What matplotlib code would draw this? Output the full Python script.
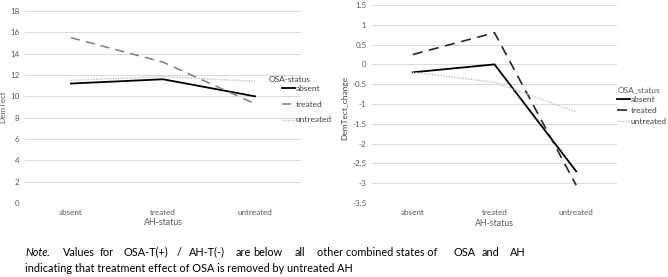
import matplotlib
matplotlib.use("Agg")
import matplotlib.pyplot as plt
import numpy as np

plt.rcParams['font.family'] = ['Lato', 'DejaVu Sans']

categories = ["absent", "treated", "untreated"]
series_names = ["absent", "treated", "untreated"]

left_absent = [11.2, 11.6, 10.0]
left_treated = [15.5, 13.2, 9.3]
left_untreated = [11.5, 11.85, 11.4]

right_absent = [-0.2, 0.0, -2.7]
right_treated = [0.25, 0.8, -3.05]
right_untreated = [-0.2, -0.45, -1.2]

left_yticks = [0, 2, 4, 6, 8, 10, 12, 14, 16, 18]
right_yticks = [-3.5, -3, -2.5, -2, -1.5, -1, -0.5, 0, 0.5, 1, 1.5]

W, H = 668, 277
fig = plt.figure(figsize=(W / 100, H / 100), dpi=100)

def ax_at(x0, x1, y_top, y_bot):
    return fig.add_axes([x0 / W, 1 - y_bot / H, (x1 - x0) / W, (y_bot - y_top) / H])

grey = "#595959"
grid_c = "#d9d9d9"
fs = 5.8

def style(ax, yticks, fmt):
    ax.set_xlim(-0.5, 2.5)
    ax.set_ylim(yticks[0], yticks[-1])
    ax.set_yticks(yticks)
    ax.set_yticklabels([fmt(v) for v in yticks], fontsize=fs, color=grey)
    ax.set_xticks(range(len(categories)))
    ax.set_xticklabels(categories, fontsize=fs, color=grey)
    for s in ax.spines.values():
        s.set_visible(False)
    ax.tick_params(axis='both', length=0, pad=4)
    ax.grid(axis='y', color=grid_c, lw=0.7)
    ax.set_axisbelow(True)
    ax.set_facecolor('none')

x = np.arange(len(categories))

# Left chart
axL = ax_at(25, 301, 11, 203)
style(axL, left_yticks, lambda v: f"{v:g}")
hL = []
hL += axL.plot(x, left_absent, color="black", lw=1.3, label=series_names[0])
hL += axL.plot(x, left_treated, color="#7f7f7f", lw=1.1, dashes=(6, 4), label=series_names[1])
hL += axL.plot(x, left_untreated, color="#bfbfbf", lw=1.0, linestyle=(0, (1, 1)), label=series_names[2])
axL.set_ylabel("DemTect", fontsize=fs, color=grey)
axL.yaxis.set_label_coords((6 - 25) / 276, 0.5)
axL.set_xlabel("AH-status", fontsize=fs + 0.6, color=grey)
axL.xaxis.set_label_coords(0.5, (203 - 218) / 192)
fig.text(269 / W, 1 - 80 / H, "OSA-status", fontsize=fs + 0.2, color="#404040", va='center', ha='left')
fig.legend(handles=hL, loc='upper left', bbox_to_anchor=(282 / W, 1 - 85 / H),
           frameon=False, fontsize=fs + 0.2, labelcolor="#404040", handlelength=1.5,
           handletextpad=0.1, labelspacing=1.05, borderpad=0, borderaxespad=0)

# Right chart
axR = ax_at(372, 617, 5, 203)
style(axR, right_yticks, lambda v: f"{v:g}")
hR = []
hR += axR.plot(x, right_absent, color="black", lw=1.3, label=series_names[0])
hR += axR.plot(x, right_treated, color="#262626", lw=1.2, dashes=(6, 4), label=series_names[1])
hR += axR.plot(x, right_untreated, color="#bfbfbf", lw=1.0, linestyle=(0, (1, 1)), label=series_names[2])
axR.set_ylabel("DemTect_change", fontsize=fs + 0.2, color="#404040")
axR.yaxis.set_label_coords((348 - 372) / 245, 0.48)
axR.set_xlabel("AH-status", fontsize=fs + 0.6, color=grey)
axR.xaxis.set_label_coords(0.5, (203 - 219) / 198)
fig.text(618 / W, 1 - 90 / H, "OSA_status", fontsize=fs + 0.2, color=grey, va='center', ha='left')
fig.legend(handles=hR, loc='upper left', bbox_to_anchor=(617 / W, 1 - 96 / H),
           frameon=False, fontsize=fs + 0.2, labelcolor="#404040", handlelength=1.5,
           handletextpad=0.1, labelspacing=0.5, borderpad=0, borderaxespad=0)

# Note text (justified first line)
note_fs = 7.8
line1_y = 1 - 252 / H
line2_y = 1 - 268 / H
words = [("Note", 25, 'italic'), (".", 46, 'normal'), ("Values", 63, 'normal'), ("for", 100, 'normal'),
         ("OSA-T(+)", 123, 'normal'), ("/", 177, 'normal'), ("AH-T(-)", 189, 'normal'),
         ("are", 236, 'normal'), ("below", 253, 'normal'), ("all", 295, 'normal'),
         ("other combined states of", 317, 'normal'), ("OSA", 453, 'normal'),
         ("and", 482, 'normal'), ("AH", 510, 'normal')]
for w, px, st in words:
    fig.text(px / W, line1_y, w, fontsize=note_fs, style=st, color="black", va='center', ha='left')
fig.text(25 / W, line2_y, "indicating that treatment effect of OSA is removed by untreated AH",
         fontsize=note_fs, color="black", va='center', ha='left')

fig.savefig("out.png", dpi=100)
